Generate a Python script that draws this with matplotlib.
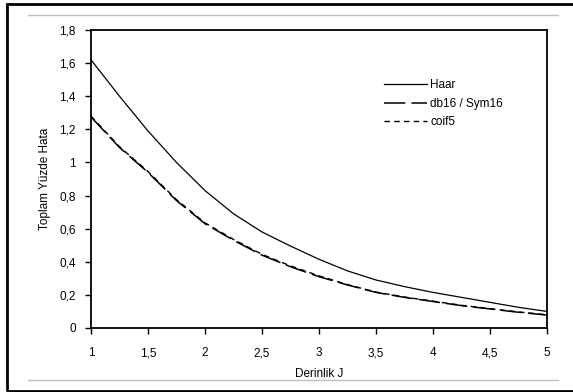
import matplotlib
matplotlib.use("Agg")
import matplotlib.pyplot as plt
from matplotlib.lines import Line2D
from matplotlib.patches import Rectangle
from matplotlib.ticker import FuncFormatter

plt.rcParams['font.family'] = ['Liberation Sans', 'DejaVu Sans']

# data
J = [1, 1.25, 1.5, 1.75, 2, 2.25, 2.5, 2.75, 3, 3.25, 3.5, 3.75, 4, 4.25, 4.5, 4.75, 5]
haar = [1.62, 1.40, 1.19, 1.00, 0.83, 0.69, 0.58, 0.495, 0.415, 0.345, 0.29, 0.25,
        0.215, 0.185, 0.155, 0.125, 0.10]
db16 = [1.275, 1.09, 0.94, 0.77, 0.63, 0.53, 0.44, 0.37, 0.31, 0.26, 0.215, 0.185,
        0.16, 0.135, 0.115, 0.095, 0.078]
coif5 = [1.28, 1.095, 0.945, 0.775, 0.635, 0.535, 0.445, 0.375, 0.315, 0.262, 0.217,
         0.187, 0.162, 0.137, 0.117, 0.097, 0.08]
labels = ["Haar", "db16 / Sym16", "coif5"]

W, H = 573, 392
fig = plt.figure(figsize=(W / 100, H / 100), dpi=100)

# outer frame and grey separator lines
fig.add_artist(Rectangle((7 / W, 1 - 391 / H), (W + 5 - 7) / W, 387 / H,
                         transform=fig.transFigure, fill=False, lw=2, ec='black'))
fig.add_artist(Line2D([28 / W, 558 / W], [1 - 15 / H, 1 - 15 / H],
                      transform=fig.transFigure, color='#c0c0c0', lw=1))
fig.add_artist(Line2D([28 / W, 558 / W], [1 - 380 / H, 1 - 380 / H],
                      transform=fig.transFigure, color='#c0c0c0', lw=1))

ax = fig.add_axes([91 / W, 1 - 328 / H, (547 - 91) / W, (328 - 30) / H])

ax.plot(J, haar, color='black', lw=0.9, label=labels[0])
ax.plot(J, db16, color='black', lw=1.1, dashes=(14, 4), label=labels[1])
ax.plot(J, coif5, color='black', lw=1.0, dashes=(4, 3), label=labels[2])

ax.set_xlim(1, 5)
ax.set_ylim(0, 1.8)
ax.set_xticks([1, 1.5, 2, 2.5, 3, 3.5, 4, 4.5, 5])
ax.set_yticks([0, 0.2, 0.4, 0.6, 0.8, 1, 1.2, 1.4, 1.6, 1.8])
fmt = FuncFormatter(lambda v, p: ('%g' % round(v, 2)).replace('.', ','))
ax.xaxis.set_major_formatter(fmt)
ax.yaxis.set_major_formatter(fmt)
ax.tick_params(direction='out', length=4, width=1, labelsize=8.5)
ax.tick_params(axis='x', pad=10)
ax.tick_params(axis='y', pad=7)

for s in ax.spines.values():
    s.set_linewidth(1.3)

ax.set_xlabel("Derinlik J", fontsize=8.5, labelpad=6)
ax.set_ylabel("Toplam Yüzde Hata", fontsize=8.5, labelpad=6)

ax.legend(loc='upper left', bbox_to_anchor=(0.62, 0.87), frameon=False,
          fontsize=8.5, handlelength=3.6, handletextpad=0.3, labelspacing=0.55)

fig.savefig("out.png", dpi=100)
